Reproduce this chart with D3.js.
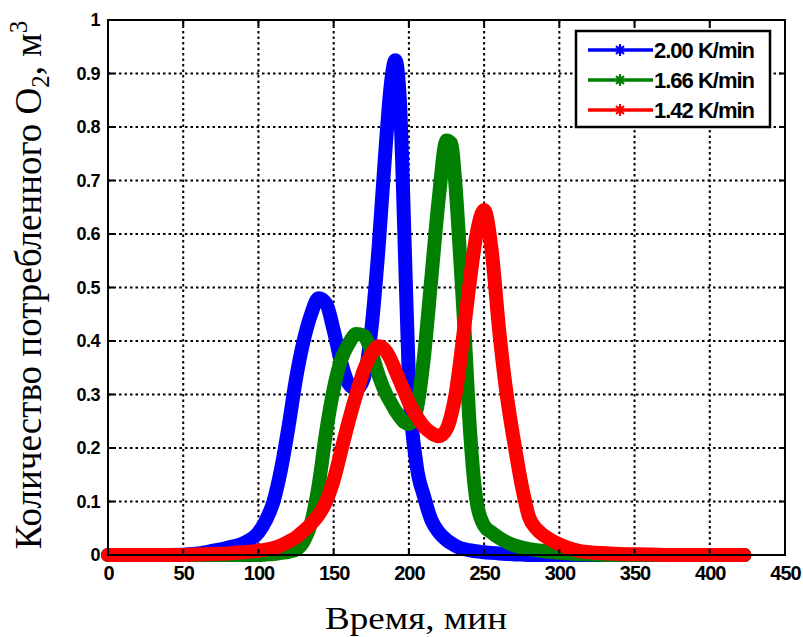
<!DOCTYPE html>
<html>
<head>
<meta charset="utf-8">
<script src="https://cdn.jsdelivr.net/npm/d3@7"></script>
<style>
  html, body { margin: 0; padding: 0; background: #fff; }
  svg { display: block; }
</style>
</head>
<body>
<svg id="chart" width="803" height="637"></svg>
<script>
// ---- Data ----
const times = [0, 20, 40, 60, 70, 80, 90, 100, 105, 110, 115, 120, 125, 130, 135, 140, 145, 150,
  155, 160, 165, 170, 175, 180, 185, 188, 191, 194, 197, 200, 205, 210, 215, 220, 225,
  228, 231, 234, 237, 240, 245, 250, 255, 260, 265, 270, 275, 280, 285, 290,
  300, 310, 320, 340, 360, 380, 400, 423];

const blueValues = [0, 0, 0, 0.003, 0.008, 0.014, 0.022, 0.042,
  0.065, 0.1, 0.16, 0.24, 0.33, 0.4, 0.45, 0.48, 0.47, 0.42,
  0.36, 0.32, 0.31, 0.33, 0.42, 0.58, 0.78,
  0.88, 0.925, 0.85, 0.6, 0.33,
  0.17, 0.11, 0.065, 0.042, 0.028,
  0.022, 0.017, 0.013, 0.011, 0.009,
  0.007, 0.005, 0.004, 0.003, 0.002, 0.001, 0.001, 0, 0, 0,
  0, 0, 0, 0, 0, 0, 0, 0];

const greenValues = [0, 0, 0, 0, 0, 0, 0, 0,
  0.001, 0.002, 0.004, 0.006, 0.01, 0.025, 0.06, 0.13, 0.23, 0.31,
  0.365, 0.395, 0.413, 0.41, 0.38, 0.335, 0.3,
  0.285, 0.27, 0.258, 0.248, 0.245,
  0.27, 0.37, 0.52, 0.67, 0.775,
  0.77, 0.69, 0.56, 0.42, 0.26,
  0.1, 0.055, 0.042, 0.032, 0.024, 0.018, 0.014, 0.011, 0.009, 0.007,
  0.004, 0.002, 0.001, 0, 0, 0, 0, 0];

const redValues = [0, 0, 0, 0.001, 0.002, 0.003, 0.005, 0.008,
  0.01, 0.013, 0.018, 0.025, 0.033, 0.045, 0.058, 0.075, 0.1, 0.14,
  0.195, 0.25, 0.3, 0.345, 0.375, 0.39, 0.38,
  0.365, 0.345, 0.325, 0.305, 0.285,
  0.26, 0.24, 0.228, 0.222, 0.235,
  0.26, 0.3, 0.36, 0.43, 0.5,
  0.6, 0.645, 0.57, 0.42, 0.3, 0.21, 0.13, 0.07, 0.048, 0.036,
  0.02, 0.01, 0.005, 0.002, 0.001, 0, 0, 0];

const seriesNames = ["2.00 K/min", "1.66 K/min", "1.42 K/min"];
const seriesColors = ["#0000ff", "#007f00", "#ff0000"];
const xTicks = [0, 50, 100, 150, 200, 250, 300, 350, 400, 450];
const yTicks = [0, 0.1, 0.2, 0.3, 0.4, 0.5, 0.6, 0.7, 0.8, 0.9, 1];
const xLabel = "Время, мин";

// ---- Layout ----
const svg = d3.select("#chart");
const margin = {left: 108, right: 18, top: 20, bottom: 82};
const W = 803, H = 637;
const x = d3.scaleLinear().domain([0, 450]).range([margin.left, W - margin.right]);
const y = d3.scaleLinear().domain([0, 1]).range([H - margin.bottom, margin.top]);

const plotL = x(0), plotR = x(450), plotT = y(1), plotB = y(0);

// grid
const grid = svg.append("g");
grid.selectAll("line.vg").data(xTicks.slice(1, -1)).join("line")
  .attr("x1", d => x(d)).attr("x2", d => x(d))
  .attr("y1", plotT).attr("y2", plotB)
  .attr("stroke", "#000").attr("stroke-width", 2)
  .attr("stroke-dasharray", "2.5,3");
grid.selectAll("line.hg").data(yTicks.slice(1, -1)).join("line")
  .attr("y1", d => y(d)).attr("y2", d => y(d))
  .attr("x1", plotL).attr("x2", plotR)
  .attr("stroke", "#000").attr("stroke-width", 2)
  .attr("stroke-dasharray", "2.5,3");

// series
const series = [blueValues, greenValues, redValues];
const line = d3.line()
  .x((d, i) => x(times[i]))
  .y(d => y(d))
  .curve(d3.curveMonotoneX);

series.forEach((vals, k) => {
  svg.append("path")
    .attr("d", line(vals))
    .attr("fill", "none")
    .attr("stroke", seriesColors[k])
    .attr("stroke-width", 14)
    .attr("stroke-linejoin", "round")
    .attr("stroke-linecap", "round");
});

// axes box
svg.append("rect")
  .attr("x", plotL).attr("y", plotT)
  .attr("width", plotR - plotL).attr("height", plotB - plotT)
  .attr("fill", "none").attr("stroke", "#000").attr("stroke-width", 2);

// ticks (inside, all four sides)
const tickLen = 6;
const tk = svg.append("g").attr("stroke", "#000").attr("stroke-width", 2);
xTicks.forEach(t => {
  tk.append("line").attr("x1", x(t)).attr("x2", x(t)).attr("y1", plotB).attr("y2", plotB - tickLen);
  tk.append("line").attr("x1", x(t)).attr("x2", x(t)).attr("y1", plotT).attr("y2", plotT + tickLen);
});
yTicks.forEach(t => {
  tk.append("line").attr("y1", y(t)).attr("y2", y(t)).attr("x1", plotL).attr("x2", plotL + tickLen);
  tk.append("line").attr("y1", y(t)).attr("y2", y(t)).attr("x1", plotR).attr("x2", plotR - tickLen);
});

// tick labels
const xAxis = d3.axisBottom(x).tickValues(xTicks).tickSize(0).tickPadding(11)
  .tickFormat(d3.format("d"));
const gx = svg.append("g").attr("transform", `translate(0,${plotB})`).call(xAxis);
gx.select(".domain").remove();
gx.selectAll("text")
  .attr("font-family", "'Liberation Sans', Arial, sans-serif")
  .attr("font-weight", "bold").attr("font-size", 20).attr("fill", "#000")
  .attr("letter-spacing", "-1");

const yAxis = d3.axisLeft(y).tickValues(yTicks).tickSize(0).tickPadding(8)
  .tickFormat(d => d === 0 ? "0" : d === 1 ? "1" : d3.format(".1f")(d));
const gy = svg.append("g").attr("transform", `translate(${plotL},0)`).call(yAxis);
gy.select(".domain").remove();
gy.selectAll("text")
  .attr("font-family", "'Liberation Sans', Arial, sans-serif")
  .attr("font-weight", "bold").attr("font-size", 18).attr("fill", "#000")
  .attr("letter-spacing", "-0.5");

// axis titles
svg.append("text")
  .attr("x", 416).attr("y", 629)
  .attr("text-anchor", "middle")
  .attr("font-family", "'Liberation Serif', 'Times New Roman', serif")
  .attr("font-size", 32).attr("fill", "#000")
  .attr("textLength", 182).attr("lengthAdjust", "spacingAndGlyphs")
  .text(xLabel);

const yt = svg.append("text")
  .attr("transform", `translate(41,285) rotate(-90)`)
  .attr("text-anchor", "middle")
  .attr("font-family", "'Liberation Serif', 'Times New Roman', serif")
  .attr("font-size", 37).attr("fill", "#000");
yt.append("tspan").text("Количество потребленного O");
yt.append("tspan").attr("font-size", 25).attr("dy", 8).text("2");
yt.append("tspan").attr("dy", -8).text(", м");
yt.append("tspan").attr("font-size", 25).attr("dy", -14).text("3");

// legend
const lg = svg.append("g");
const lx = 576, ly = 31, lw = 194, lh = 96;
lg.append("rect").attr("x", lx).attr("y", ly).attr("width", lw).attr("height", lh)
  .attr("fill", "#fff").attr("stroke", "#000").attr("stroke-width", 2.5);
const star = "M0,-6L0,6M-5,0L5,0M-4,-4L4,4M-4,4L4,-4";
seriesNames.forEach((name, i) => {
  const cy = ly + 19 + i * 30;
  lg.append("line").attr("x1", lx + 12).attr("x2", lx + 77).attr("y1", cy).attr("y2", cy)
    .attr("stroke", seriesColors[i]).attr("stroke-width", 3.5);
  lg.append("path").attr("d", d3.symbol(d3.symbolDiamond, 40)())
    .attr("transform", `translate(${lx + 44},${cy})`).attr("fill", seriesColors[i]);
  lg.append("path").attr("d", star)
    .attr("transform", `translate(${lx + 44},${cy})`).attr("stroke", seriesColors[i]).attr("stroke-width", 2);
  lg.append("text").attr("x", lx + 78).attr("y", cy + 8)
    .attr("font-family", "'Liberation Sans', Arial, sans-serif")
    .attr("font-weight", "bold").attr("font-size", 22).attr("letter-spacing", "-1")
    .attr("fill", "#000").text(name);
});
</script>
</body>
</html>
